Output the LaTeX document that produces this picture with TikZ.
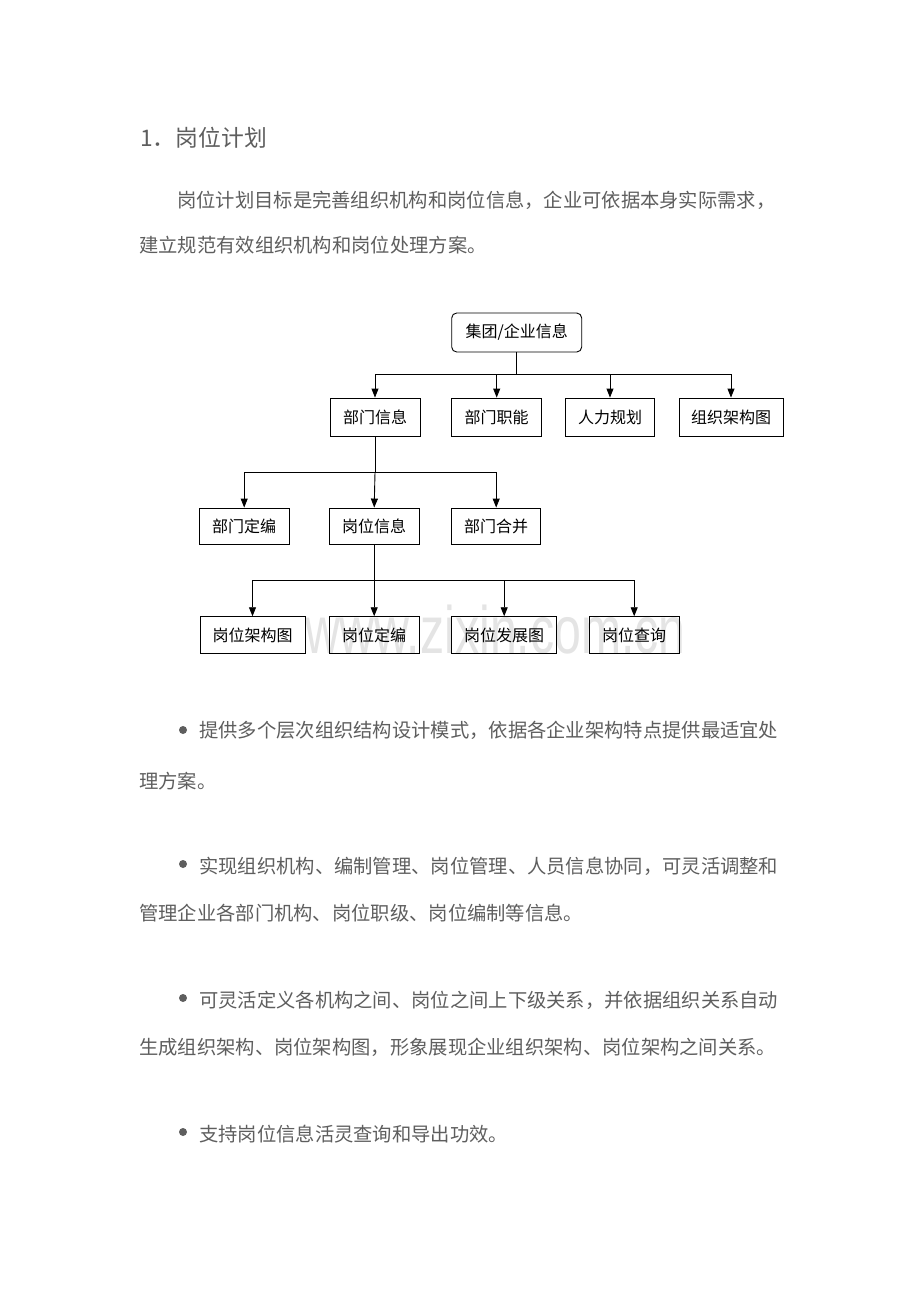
\documentclass[tikz,border=0pt]{standalone}
\usepackage{fontspec}
\setmainfont{Noto Sans CJK SC}
\newfontfamily\wmfont{Liberation Sans}
\usetikzlibrary{arrows.meta}
\definecolor{txtgray}{HTML}{5E5E5E}
\definecolor{wmgray}{HTML}{E4E4E4}
\tikzset{
  bodytext/.style={anchor=base west, inner sep=0pt, text=txtgray, font=\fontsize{19.3pt}{22pt}\selectfont},
  chartbox/.style={draw=black, line width=0.9pt, inner sep=0pt, text=black, font=\fontsize{16pt}{18pt}\selectfont},
  conn/.style={draw=black, line width=0.9pt},
  arr/.style={conn, -{Triangle[width=7pt,length=9pt]}},
  bulletdot/.style={fill=txtgray, draw=none}
}
\begin{document}
\begin{tikzpicture}[x=1pt,y=-1pt]
\useasboundingbox (0,0) rectangle (920,1302);
\fill[white] (0,0) rectangle (920,1302);

% watermark
\node[anchor=base west, inner sep=0pt, text=wmgray, xscale=0.72, font=\wmfont\fontsize{67pt}{70pt}\selectfont] (wm) at (305,653) {www.zixin.com.cn};

% heading and paragraph
\node[bodytext, font=\fontsize{22.8pt}{26pt}\selectfont] (title) at (140,146) {1．岗位计划};
\node[bodytext] (p1) at (177,207) {岗位计划目标是完善组织机构和岗位信息，企业可依据本身实际需求，};
\node[bodytext] (p2) at (139,252) {建立规范有效组织机构和岗位处理方案。};

% chart
\node[chartbox, rounded corners=5pt, minimum width=130pt, minimum height=39pt] (top) at (516.7,332.5) {集团/企业信息};

\node[chartbox, minimum width=90pt, minimum height=38pt] (n21) at (375,417) {部门信息};
\node[chartbox, minimum width=90pt, minimum height=38pt] (n22) at (496.7,417) {部门职能};
\node[chartbox, minimum width=89pt, minimum height=38pt] (n23) at (610,417) {人力规划};
\node[chartbox, minimum width=104pt, minimum height=38pt] (n24) at (731,417) {组织架构图};

\node[chartbox, minimum width=90pt, minimum height=36pt] (n31) at (244.2,526) {部门定编};
\node[chartbox, minimum width=90pt, minimum height=36pt] (n32) at (374.2,526) {岗位信息};
\node[chartbox, minimum width=89pt, minimum height=36pt] (n33) at (496.2,526) {部门合并};

\node[chartbox, minimum width=105pt, minimum height=36.6pt] (n41) at (252.5,635) {岗位架构图};
\node[chartbox, minimum width=90pt, minimum height=36.6pt] (n42) at (374.2,635) {岗位定编};
\node[chartbox, minimum width=105pt, minimum height=36.6pt] (n43) at (504.2,635) {岗位发展图};
\node[chartbox, minimum width=90pt, minimum height=36.6pt] (n44) at (634.2,635) {岗位查询};

% level 1 -> 2
\coordinate (b1) at (516.7,374);
\draw[conn] (top.south) -- (b1);
\draw[conn] (n21.north |- b1) -- (n24.north |- b1);
\foreach \n in {n21,n22,n23,n24} \draw[arr] (\n.north |- b1) -- (\n.north);

% level 2 -> 3
\coordinate (b2) at (374.3,472.3);
\draw[conn] (n21.south) -- (n21.south |- b2);
\draw[conn] (n31.north |- b2) -- (n33.north |- b2);
\foreach \n in {n31,n33} \draw[arr] (\n.north |- b2) -- (\n.north);
\draw[arr] (n21.south |- b2) -- (n32.north);

% level 3 -> 4
\coordinate (b3) at (374.2,580);
\draw[conn] (n32.south) -- (b3);
\draw[conn] (n41.north |- b3) -- (n44.north |- b3);
\foreach \n in {n41,n42,n43,n44} \draw[arr] (\n.north |- b3) -- (\n.north);

% bullets
\fill[bulletdot] (183,730) circle (4pt);
\node[bodytext] (b1t) at (199,737) {提供多个层次组织结构设计模式，依据各企业架构特点提供最适宜处};
\node[bodytext] (b1c) at (139,788) {理方案。};

\fill[bulletdot] (183,864) circle (4pt);
\node[bodytext] (b2t) at (199,873) {实现组织机构、编制管理、岗位管理、人员信息协同，可灵活调整和};
\node[bodytext] (b2c) at (139,920) {管理企业各部门机构、岗位职级、岗位编制等信息。};

\fill[bulletdot] (183,998) circle (4pt);
\node[bodytext] (b3t) at (199,1007) {可灵活定义各机构之间、岗位之间上下级关系，并依据组织关系自动};
\node[bodytext] (b3c) at (139,1054) {生成组织架构、岗位架构图，形象展现企业组织架构、岗位架构之间关系。};

\fill[bulletdot] (183,1132) circle (4pt);
\node[bodytext] (b4t) at (199,1141) {支持岗位信息活灵查询和导出功效。};
\end{tikzpicture}
\end{document}
